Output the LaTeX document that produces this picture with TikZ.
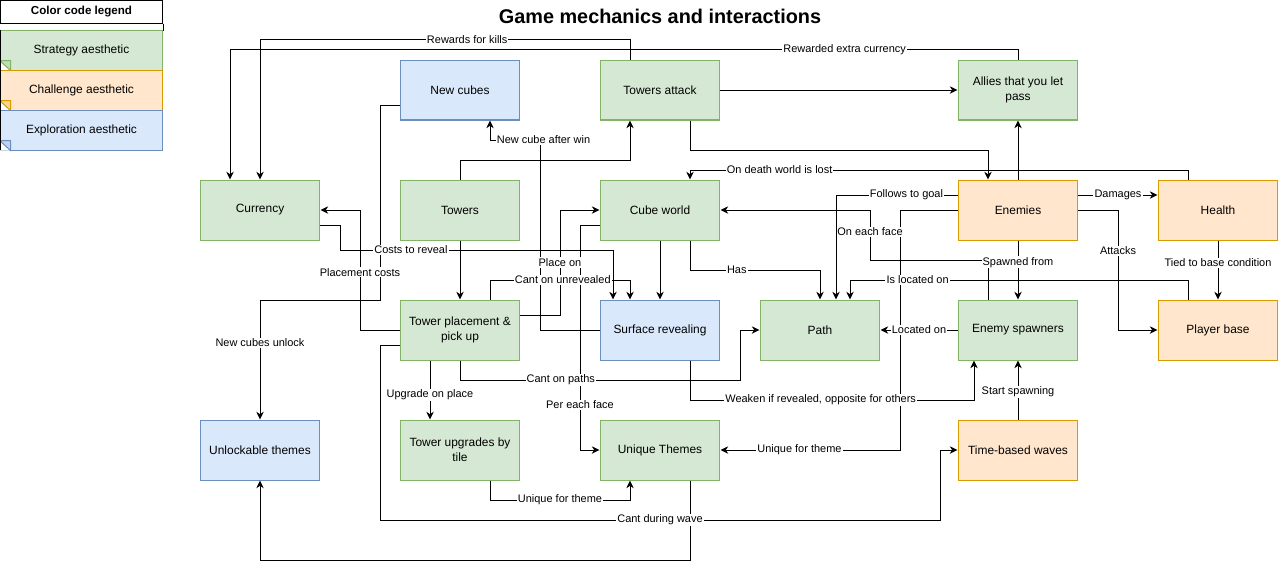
\documentclass[tikz,border=0pt]{standalone}
\usepackage{fontspec}
\setmainfont{Liberation Sans}
\usetikzlibrary{calc,arrows.meta}
\definecolor{sfill}{HTML}{D5E8D4}
\definecolor{sline}{HTML}{82B366}
\definecolor{cfill}{HTML}{FFE6CC}
\definecolor{cline}{HTML}{D79B00}
\definecolor{efill}{HTML}{DAE8FC}
\definecolor{eline}{HTML}{6C8EBF}

\begin{document}
\begin{tikzpicture}[x=0.02cm,y=-0.02cm,line width=0.57pt,
  box/.style={draw,minimum width=2.4cm,minimum height=1.2cm,inner sep=0pt,align=center,font=\fontsize{6.8}{8.5}\selectfont},
  grn/.style={box,fill=sfill,draw=sline},
  orn/.style={box,fill=cfill,draw=cline},
  blu/.style={box,fill=efill,draw=eline},
  link/.style={draw,-{Stealth[length=4.4pt,width=4.2pt,inset=1.4pt]}},
  lbl/.style={fill=white,inner sep=0.6pt,font=\fontsize{6.24}{7}\selectfont}]
\useasboundingbox (0,0) rectangle (1279,569);
% Legend
\node[draw,minimum width=3.26cm,minimum height=0.46cm,inner sep=0pt,font=\bfseries\fontsize{6.6}{8}\selectfont] (lhead) at (81.5,11.5) {Color code legend};
\draw (lhead.south west) -- ++(0,7) (lhead.south east) -- ++(0,7);
\foreach \n/\yc/\fc/\lc/\txt in {strat/50/sfill/sline/Strategy aesthetic,chall/90/cfill/cline/Challenge aesthetic,explo/130/efill/eline/Exploration aesthetic}{
  \node[box,minimum width=3.26cm,minimum height=0.8cm,fill=\fc,draw=\lc] (leg\n) at (81.5,\yc) {\txt};
  \fill[white] (leg\n.south west) -- ++(0,-10) -- ++(11,10) -- cycle;
  \filldraw[fill=\lc!25!\fc,draw=\lc] (leg\n.south west) ++(0,-10) -- ++(11,0) -- ++(0,10) -- cycle;
}
\draw (0,30) -- (0,150);
\node[font=\bfseries\fontsize{11.3}{13}\selectfont] (title) at (660,16) {Game mechanics and interactions};
% Mechanics
\node[blu] (newc) at (460,90) {New cubes};
\node[grn] (tatt) at (660,90) {Towers attack};
\node[grn] (allies) at (1018,90) {Allies that you let\\pass};
\node[grn] (curr) at (260,210) {Currency};
\node[grn] (towers) at (460,210) {Towers};
\node[grn] (cube) at (660,210) {Cube world};
\node[orn] (enem) at (1018,210) {Enemies};
\node[orn] (health) at (1218,210) {Health};
\node[grn] (tplace) at (460,330) {Tower placement \&\\pick up};
\node[blu] (surf) at (660,330) {Surface revealing};
\node[grn] (enpath) at (820,330) {Path};
\node[grn] (spawn) at (1018,330) {Enemy spawners};
\node[orn] (pbase) at (1218,330) {Player base};
\node[blu] (unlock) at (260,450) {Unlockable themes};
\node[grn] (tupg) at (460,450) {Tower upgrades by\\tile};
\node[grn] (uniq) at (660,450) {Unique Themes};
\node[orn] (waves) at (1018,450) {Time-based waves};
% Connectors without text
\draw[link] (tatt) -- (allies);
\draw[link] (enem) -- (allies);
\draw[link] (towers) -- (tplace);
\draw[link] (cube) -- (surf);
\draw[link] (towers.north) -- (460,160) -| ($(tatt.south)+(-30,0)$);
\draw[link] ($(tatt.south)+(30,0)$) -- (690,150) -| ($(enem.north)+(-30,0)$);
\draw[link] ($(uniq.south)+(30,0)$) -- (690,560) -| (unlock.south);
% Rewards
\draw[link] ($(tatt.north)+(-30,0)$) -- ++(0,-20) -| (curr.north) node[lbl,pos=0.22]{Rewards for kills};
\draw[link] (allies.north) -- ++(0,-10) -| ($(curr.north)+(-30,0)$) node[lbl,pos=0.11]{Rewarded extra currency};
\draw[link] ($(newc.west)+(0,15)$) -| (380,300) -| (unlock.north) node[lbl,pos=0.68]{New cubes unlock};
\draw[link] ($(tplace.west)+(0,15)$) -- (380,345) |- (940,520) node[lbl,pos=0.75]{Cant during wave} |- (waves.west);
\draw[link] (tplace.west) -- (360,330) |- (curr.east) node[lbl,pos=0.24]{Placement costs};
\draw[link] ($(curr.east)+(0,15)$) -- (340,225) -- (340,250) -| ($(surf.north)+(-47,0)$) node[lbl,pos=0.13]{Costs to reveal};
% Placing towers
\draw[link] (surf.west) -| (540,140) node[lbl,pos=1,xshift=2pt]{New cube after win} -| ($(newc.south)+(30,0)$);
\draw[link] ($(cube.west)+(0,15)$) -- (580,225) |- (uniq.west) node[lbl,pos=0.4]{Per each face};
\draw[link] ($(tplace.east)+(0,-15)$) -- (560,315) |- (cube.west) node[lbl,pos=0.25]{Place on};
\draw[link] ($(tplace.north)+(30,0)$) -- (490,280) -| ($(surf.north)+(-30,0)$) node[lbl,pos=0.26]{Cant on unrevealed};
\draw[link] (tplace.south) |- (740,380) node[lbl,pos=0.68]{Cant on paths} |- (enpath.west);
\draw[link] ($(tplace.south)+(-30,0)$) -- ($(tupg.north)+(-30,0)$) node[lbl,pos=0.58]{Upgrade on place};
\draw[link] ($(tupg.south)+(30,0)$) -- (490,500) -| ($(uniq.south)+(-30,0)$) node[lbl,pos=0.25]{Unique for theme};
\draw[link] ($(cube.south)+(30,0)$) -- (690,270) -| (enpath.north) node[lbl,pos=0.18]{Has};
% Enemies
\draw[link] (enem.west) -- (900,210) |- (uniq.east) node[lbl,pos=0.78]{Unique for theme};
\draw[link] ($(spawn.north)+(-30,0)$) -- (988,260) -| (870,210) node[lbl,pos=0.78]{On each face} -- (cube.east);
\draw[link] (enem) -- (spawn) node[lbl,pos=0.37]{Spawned from};
\draw[link] ($(enem.west)+(0,-15)$) -| ($(enpath.north)+(16,0)$) node[lbl,pos=0.21]{Follows to goal};
\draw[link] ($(health.north)+(-30,0)$) -- (1188,170) -| ($(cube.north)+(30,0)$) node[lbl,pos=0.41]{On death world is lost};
\draw[link] ($(pbase.north)+(-30,0)$) -- (1188,280) -| ($(enpath.north)+(30,0)$) node[lbl,pos=0.4]{Is located on};
\draw[link] (spawn) -- (enpath) node[lbl,pos=0.5]{Located on};
\draw[link] ($(surf.south)+(30,0)$) |- (974,400) node[lbl,pos=0.73]{Weaken if revealed, opposite for others} -- ($(spawn.south)+(-44,0)$);
\draw[link] (waves) -- (spawn) node[lbl,pos=0.47]{Start spawning};
\draw[link] ($(enem.east)+(0,-15)$) -- ($(health.west)+(0,-15)$) node[lbl,pos=0.5]{Damages};
\draw[link] (enem.east) -- (1118,210) |- (pbase.west) node[lbl,pos=0.17]{Attacks};
\draw[link] (health) -- (pbase) node[lbl,pos=0.38]{Tied to base condition};
\end{tikzpicture}
\end{document}
